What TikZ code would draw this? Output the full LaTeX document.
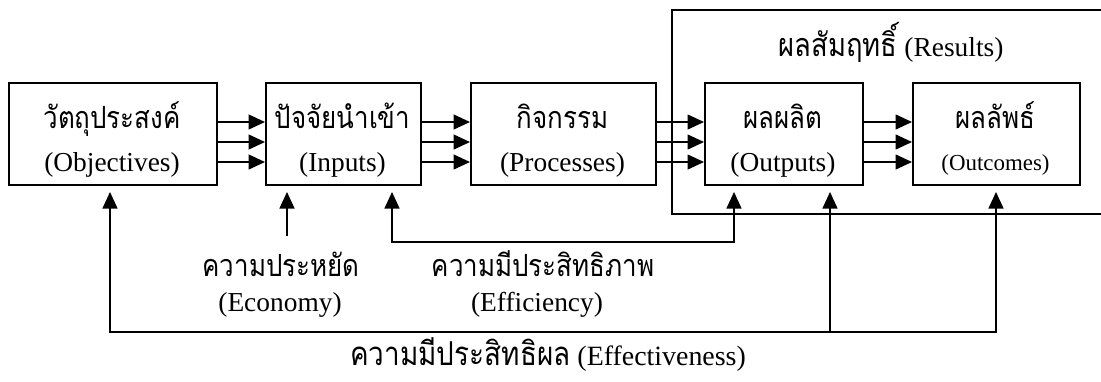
\documentclass[tikz,border=0pt]{standalone}
\usepackage{fontspec}
\usepackage{graphicx}
\setmainfont{Liberation Serif}
\newfontfamily\thai[Script=Thai]{Loma}
\newcommand{\thtxt}[1]{\scalebox{1}[1.18]{\thai #1}}
\usetikzlibrary{arrows.meta}
\begin{document}
\begin{tikzpicture}[x=1bp,y=-1bp,
  box/.style={draw,line width=1.7bp,inner sep=0pt,anchor=north west},
  conn/.style={line width=1.4bp,-{Triangle[length=16.5bp,width=15bp]}},
  fb/.style={line width=1.2bp},
  tip/.style={-{Triangle[length=16.5bp,width=15bp]}},
  both/.style={{Triangle[length=16.5bp,width=15bp]}-{Triangle[length=16.5bp,width=15bp]}},
  th/.style={anchor=base,inner sep=0pt,font=\fontsize{26}{30}\selectfont},
  en/.style={anchor=base,inner sep=0pt,font=\fontsize{27.5}{32}\selectfont},
  ensm/.style={anchor=base,inner sep=0pt,font=\fontsize{23}{27}\selectfont}]
\useasboundingbox (0,0) rectangle (1101,381);
% results frame
\draw[line width=1.7bp] (1101,10) -- (672,10) -- (672,214) -- (1101,214);
\node[anchor=base,inner sep=0pt,font=\fontsize{27.5}{32}\selectfont] (reslbl) at (891,56) {\thtxt{ผลสัมฤทธิ์} (Results)};
% boxes
\node[box,minimum width=208bp,minimum height=102bp] (obj) at (8,82) {};
\node[box,minimum width=155bp,minimum height=102bp] (inp) at (265,82) {};
\node[box,minimum width=185bp,minimum height=102bp] (proc) at (470,82) {};
\node[box,minimum width=158bp,minimum height=102bp] (outp) at (704,82) {};
\node[box,minimum width=167bp,minimum height=102bp] (outc) at (912,82) {};
% texts
\node[th] (t1) at (112,128) {\thtxt{วัตถุประสงค์}};
\node[en] (e1) at (112,171) {(Objectives)};
\node[th] (t2) at (342.5,128) {\thtxt{ปัจจัยนำเข้า}};
\node[en] (e2) at (342.5,171) {(Inputs)};
\node[th] (t3) at (562.5,128) {\thtxt{กิจกรรม}};
\node[en] (e3) at (562.5,171) {(Processes)};
\node[th] (t4) at (783,128) {\thtxt{ผลผลิต}};
\node[en] (e4) at (783,171) {(Outputs)};
\node[th] (t5) at (995.5,128) {\thtxt{ผลลัพธ์}};
\node[ensm] (e5) at (995.5,170) {(Outcomes)};
% forward arrows
\foreach \y in {122,142,162}{
  \draw[conn] (obj.east |- 0,\y) -- (inp.west |- 0,\y);
  \draw[conn] (inp.east |- 0,\y) -- (proc.west |- 0,\y);
  \draw[conn] (proc.east |- 0,\y) -- (outp.west |- 0,\y);
  \draw[conn] (outp.east |- 0,\y) -- (outc.west |- 0,\y);
}
% economy
\coordinate (ecoS) at (287,236);
\draw[fb,tip] (ecoS) -- (287,192);
\node[th] (ecot) at (281,276) {\thtxt{ความประหยัด}};
\node[en] (ecoe) at (280,311) {(Economy)};
% efficiency
\draw[fb,both] (392,192) -- (392,242) -- (734,242) -- (734,192);
\node[th] (efft) at (543,276) {\thtxt{ความมีประสิทธิภาพ}};
\node[en] (effe) at (537,311) {(Efficiency)};
% effectiveness
\draw[fb,both] (110,192) -- (110,332) -- (996,332) -- (996,192);
\draw[fb,tip] (830,332) -- (830,192);
\node[anchor=base,inner sep=0pt,font=\fontsize{28}{32}\selectfont] (efvlbl) at (548,365) {\thtxt{ความมีประสิทธิผล} (Effectiveness)};
\end{tikzpicture}
\end{document}
